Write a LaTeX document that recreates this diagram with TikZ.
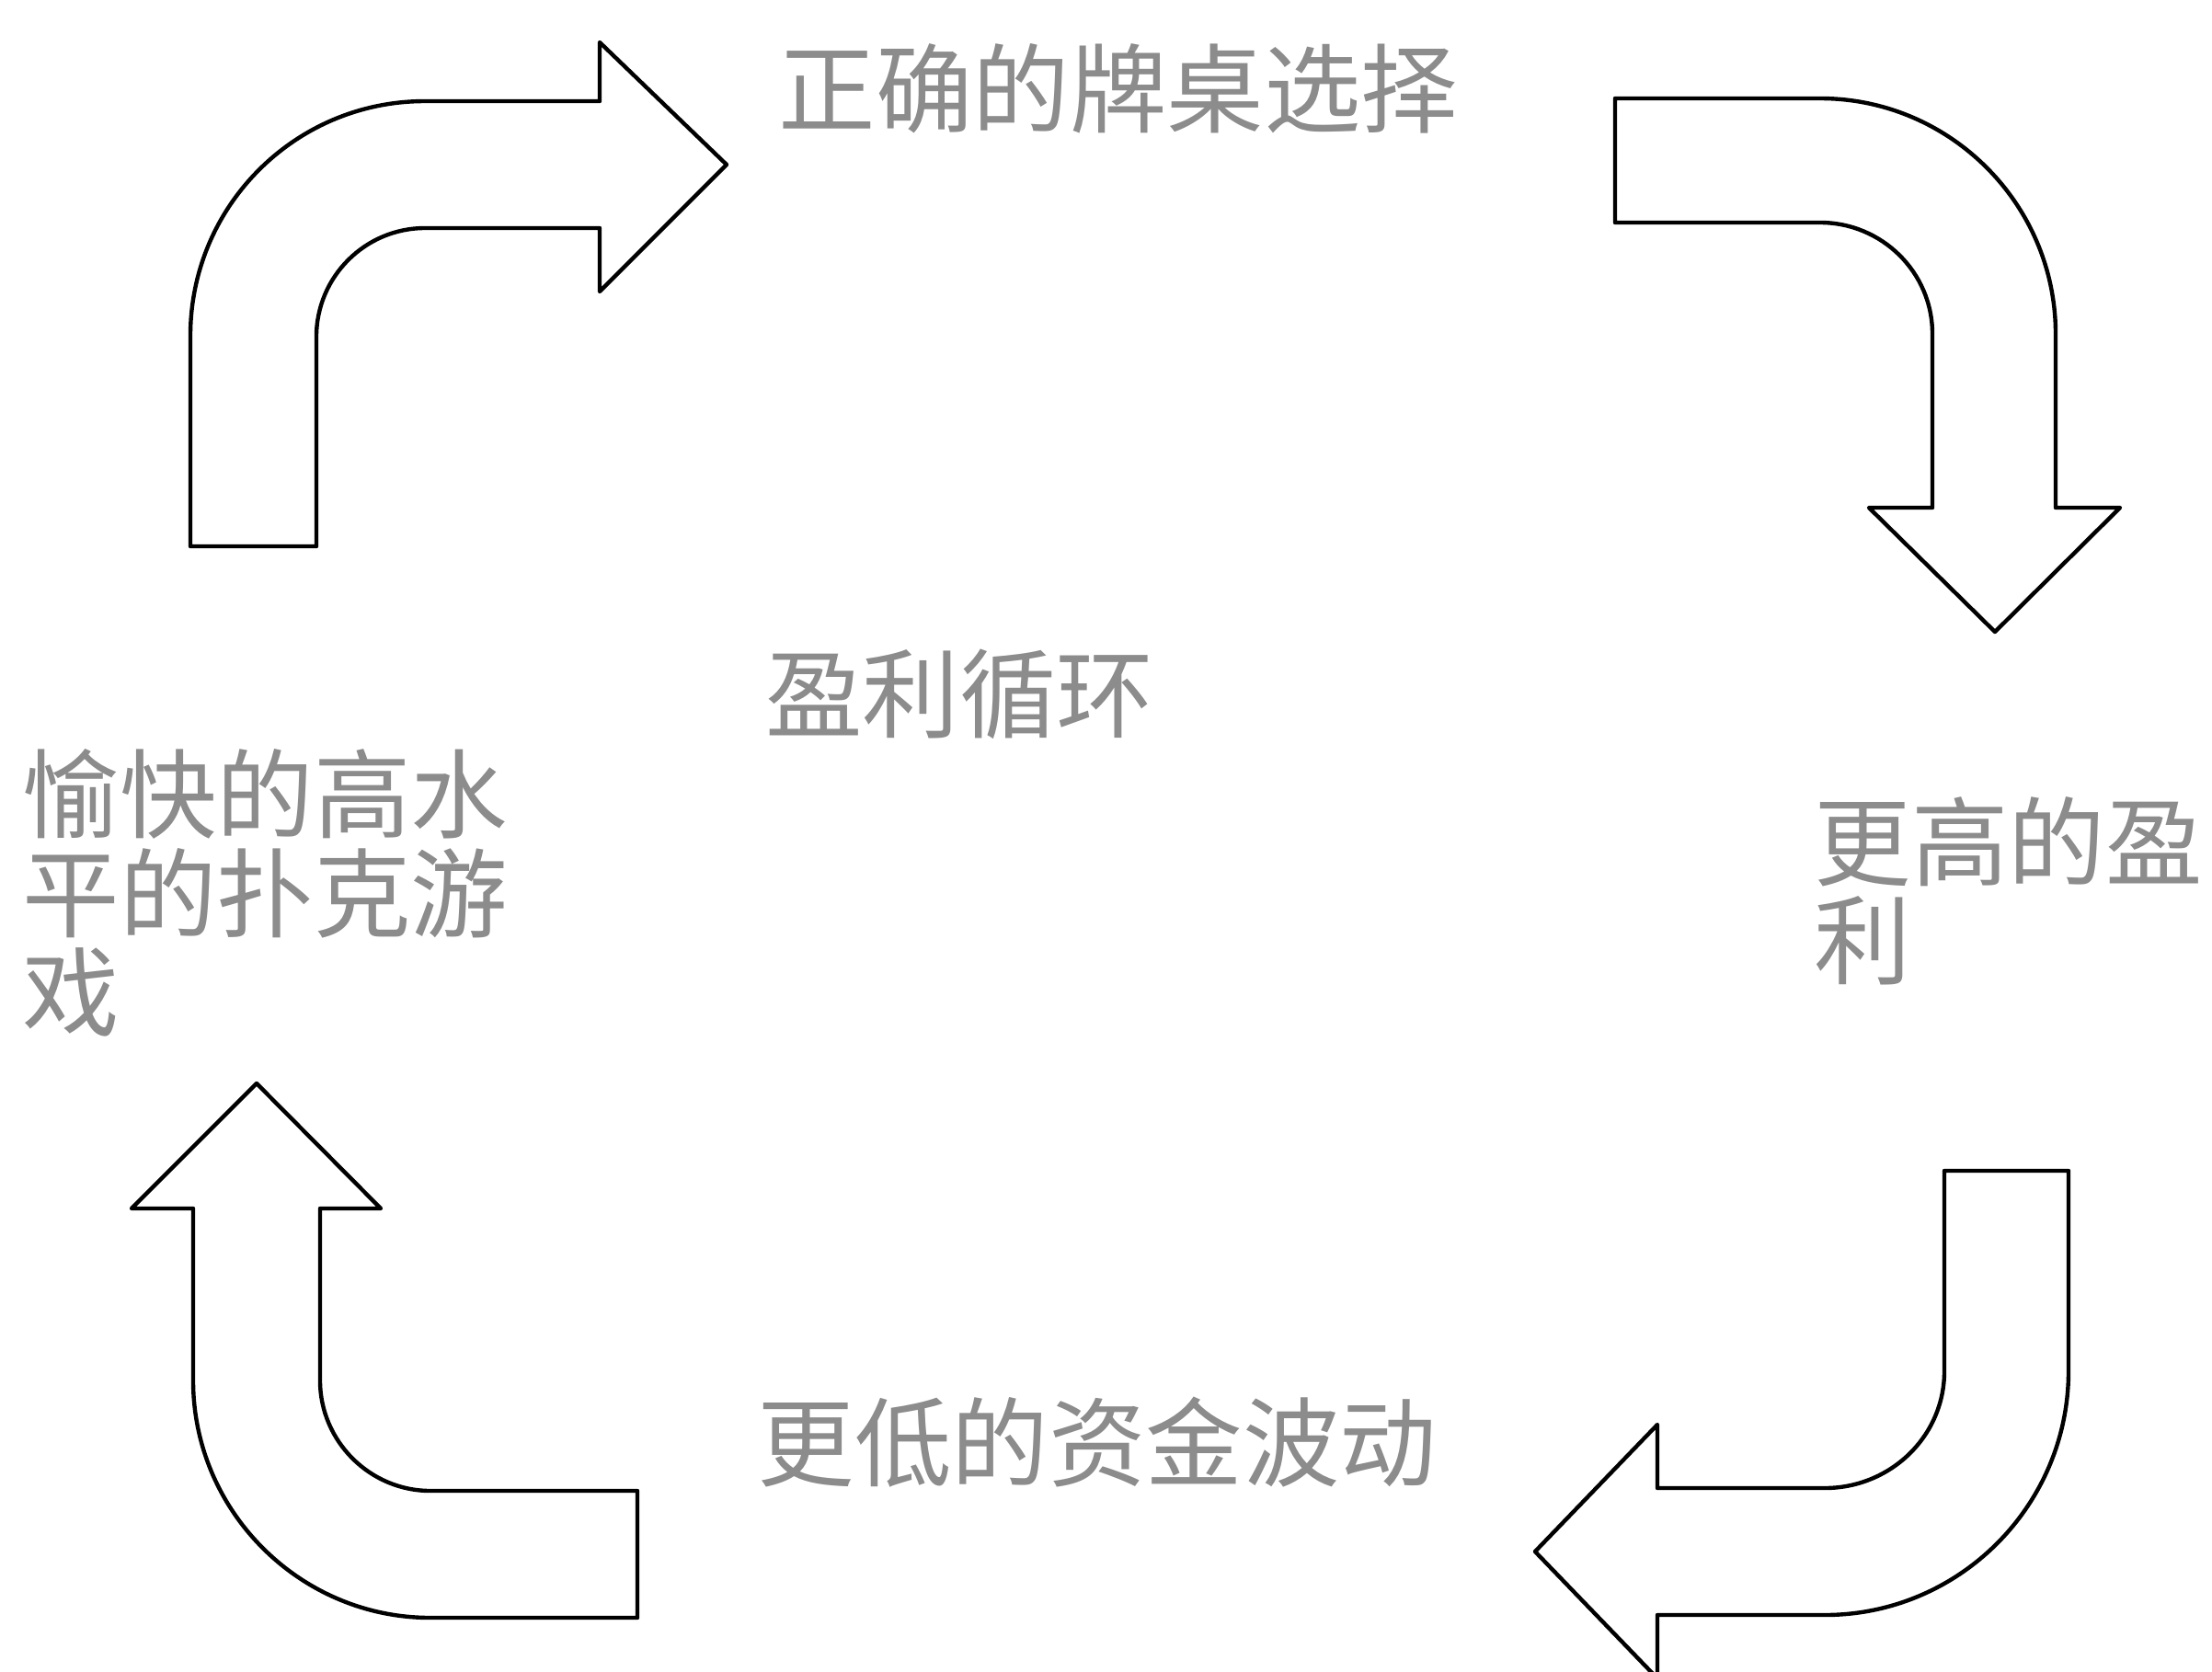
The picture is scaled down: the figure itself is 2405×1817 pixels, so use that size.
\documentclass[tikz,border=0pt]{standalone}
\usepackage{fontspec}
\newfontfamily\cjk{Noto Sans CJK SC}

\tikzset{
  bentarrow/.style={draw=black, line width=1.25pt, line join=round, fill=white},
  cyclelabel/.style={font=\cjk\fontsize{30}{30.5}\selectfont, text=black!45, inner sep=0pt, align=left},
}

\begin{document}
\begin{tikzpicture}[x=0.01cm, y=-0.01cm]
      \useasboundingbox (0,0) rectangle (2405,1817);
      \clip (0,0) rectangle (2405,1817);

      % up, then right
      \draw[bentarrow] (207,594) -- (207,365) .. controls (207,224) and (321,110) .. (462,110)
        -- (652,110) -- (652,46) -- (790,179) -- (652,317) -- (652,248) -- (462,248)
        .. controls (397,248) and (344,301) .. (344,366) -- (344,594) -- cycle;
      % right, then down
      \draw[bentarrow] (1756,107) -- (1979,107) .. controls (2120,107) and (2235,222) .. (2235,363)
        -- (2235,552) -- (2305,552) -- (2169,687) -- (2032,552) -- (2101,552) -- (2101,363)
        .. controls (2101,296) and (2046,242) .. (1979,242) -- (1756,242) -- cycle;
      % down, then left
      \draw[bentarrow] (2114,1273) -- (2249,1273) -- (2249,1491) .. controls (2249,1637) and (2130,1756) .. (1984,1756)
        -- (1802,1756) -- (1802,1825) -- (1669,1687) -- (1802,1549) -- (1802,1618) -- (1984,1618)
        .. controls (2055,1618) and (2114,1562) .. (2114,1491) -- cycle;
      % left, then up
      \draw[bentarrow] (693,1621) -- (468,1621) .. controls (402,1621) and (348,1567) .. (348,1501)
        -- (348,1314) -- (414,1314) -- (279,1178) -- (143,1314) -- (210,1314) -- (210,1501)
        .. controls (210,1643) and (326,1759) .. (468,1759) -- (693,1759) -- cycle;

      \node[cyclelabel] (tablesel) at (1216,96) {正确的牌桌选择};
      \node[cyclelabel] (loop) at (1043,755) {盈利循环};
      \node[cyclelabel, anchor=west] (fungame) at (24,971) {愉快的高水\\平的扑克游\\戏};
      \node[cyclelabel, anchor=west] (winrate) at (1972,969) {更高的盈\\利};
      \node[cyclelabel] (lowvar) at (1193,1568) {更低的资金波动};
\end{tikzpicture}
\end{document}
